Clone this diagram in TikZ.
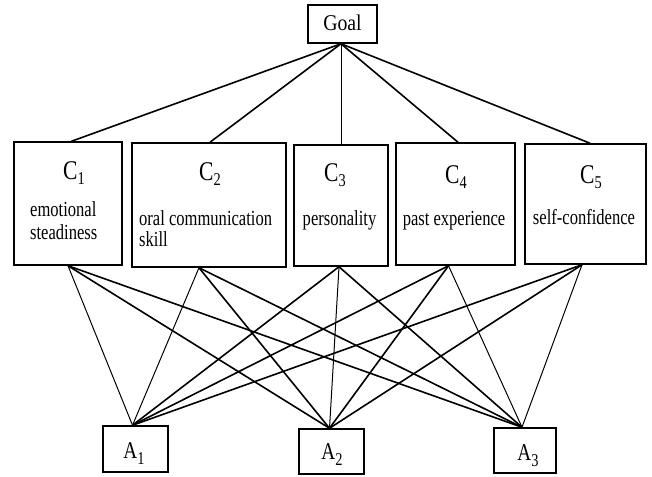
\documentclass[tikz,border=0pt]{standalone}
\usepackage{fontspec}
\setmainfont{Liberation Serif}
\newfontfamily\condfont[FakeStretch=0.8]{Liberation Serif}
\newfontfamily\goalfont[FakeStretch=0.88]{Liberation Serif}
\newfontfamily\descfont[FakeStretch=0.77]{Liberation Serif}
\usetikzlibrary{calc}
\newcommand{\critlabel}[1]{{\condfont\fontsize{27}{27}\selectfont C\raisebox{-5pt}{\fontsize{18}{18}\selectfont #1}}}
\newcommand{\altlabel}[1]{{\condfont\fontsize{24}{24}\selectfont A\raisebox{-6pt}{\fontsize{18}{18}\selectfont #1}}}
\tikzset{
  box/.style={draw, line width=1.5pt, inner sep=0pt},
  desc/.style={inner sep=0pt, font=\descfont\fontsize{21.5}{24}\selectfont},
  lbl/.style={inner sep=0pt, anchor=base},
  thick link/.style={line width=1.6pt},
  thin link/.style={line width=1.0pt},
}
\begin{document}
\begin{tikzpicture}[x=1pt,y=-1pt]
\useasboundingbox (0,0) rectangle (652,476);
% boxes
\node[box, minimum width=69pt, minimum height=38pt] (goal) at (342.5,24) {};
\node[box, minimum width=108pt, minimum height=123pt] (c1) at (68,203.5) {};
\node[box, minimum width=154pt, minimum height=124pt] (c2) at (209,205) {};
\node[box, minimum width=94pt, minimum height=121pt] (c3) at (341,205.5) {};
\node[box, minimum width=119pt, minimum height=122pt] (c4) at (455.5,204) {};
\node[box, minimum width=121pt, minimum height=120pt] (c5) at (585.5,204) {};
\node[box, minimum width=65pt, minimum height=46pt] (a1) at (135.5,449) {};
\node[box, minimum width=65pt, minimum height=45pt] (a2) at (331.5,451.5) {};
\node[box, minimum width=62pt, minimum height=45pt] (a3) at (525,450.5) {};
% texts
\node[lbl, font=\goalfont\fontsize{22.5}{22.5}\selectfont] (goalt) at (342.5,30.5) {Goal};
\node[lbl] (c1l) at (74,179) {\critlabel{1}};
\node[lbl] (c2l) at (210,180.5) {\critlabel{2}};
\node[lbl] (c3l) at (335,181) {\critlabel{3}};
\node[lbl] (c4l) at (456,183) {\critlabel{4}};
\node[lbl] (c5l) at (591,183) {\critlabel{5}};
\node[desc, anchor=base west] (c1d1) at (30,216.7) {emotional};
\node[desc, anchor=base west] (c1d2) at (30,239.3) {steadiness};
\node[desc, anchor=base west] (c2d1) at (139,225.5) {oral communication};
\node[desc, anchor=base west] (c2d2) at (139,246) {skill};
\node[desc, anchor=base] (c3d) at (339.5,225) {personality};
\node[desc, anchor=base] (c4d) at (454,225.5) {past experience};
\node[desc, anchor=base] (c5d) at (584,224.5) {self-confidence};
\node[lbl] (a1l) at (134,458) {\altlabel{1}};
\node[lbl] (a2l) at (332,459) {\altlabel{2}};
\node[lbl] (a3l) at (528,460) {\altlabel{3}};
% connection points
\coordinate (g0) at ($(goal.south)+(-1.5,0)$);
\coordinate (c1t) at ($(c1.north)+(3.5,0)$);
\coordinate (c2t) at ($(c2.north)+(1,0)$);
\coordinate (c3t) at ($(c3.north)+(0,0)$);
\coordinate (c4t) at ($(c4.north)+(2.5,0)$);
\coordinate (c5t) at ($(c5.north)+(4.5,0)$);
\coordinate (c1b) at ($(c1.south)+(0,0)$);
\coordinate (c2b) at ($(c2.south)+(-10,0)$);
\coordinate (c3b) at ($(c3.south)+(-2,0)$);
\coordinate (c4b) at ($(c4.south)+(-7,0)$);
\coordinate (c5b) at ($(c5.south)+(-3.5,0)$);
\coordinate (a1t) at ($(a1.north)+(-3,0)$);
\coordinate (a2t) at ($(a2.north)+(-2,0)$);
\coordinate (a3t) at ($(a3.north)+(-3,0)$);
% goal to criteria
\draw[thick link] (g0) -- (c1t);
\draw[thick link] (g0) -- (c2t);
\draw[thin link] (g0) -- (c3t);
\draw[thick link] (g0) -- (c4t);
\draw[thick link] (g0) -- (c5t);
% criteria to alternatives
\draw[thin link] (c1b) -- (a1t);
\draw[thick link] (c1b) -- (a2t);
\draw[thick link] (c1b) -- (a3t);
\draw[thin link] (c2b) -- (a1t);
\draw[thick link] (c2b) -- (a2t);
\draw[thick link] (c2b) -- (a3t);
\draw[thick link] (c3b) -- (a1t);
\draw[thin link] (c3b) -- (a2t);
\draw[thick link] (c3b) -- (a3t);
\draw[thick link] (c4b) -- (a1t);
\draw[thick link] (c4b) -- (a2t);
\draw[thin link] (c4b) -- (a3t);
\draw[thick link] (c5b) -- (a1t);
\draw[thick link] (c5b) -- (a2t);
\draw[thin link] (c5b) -- (a3t);
\end{tikzpicture}
\end{document}
